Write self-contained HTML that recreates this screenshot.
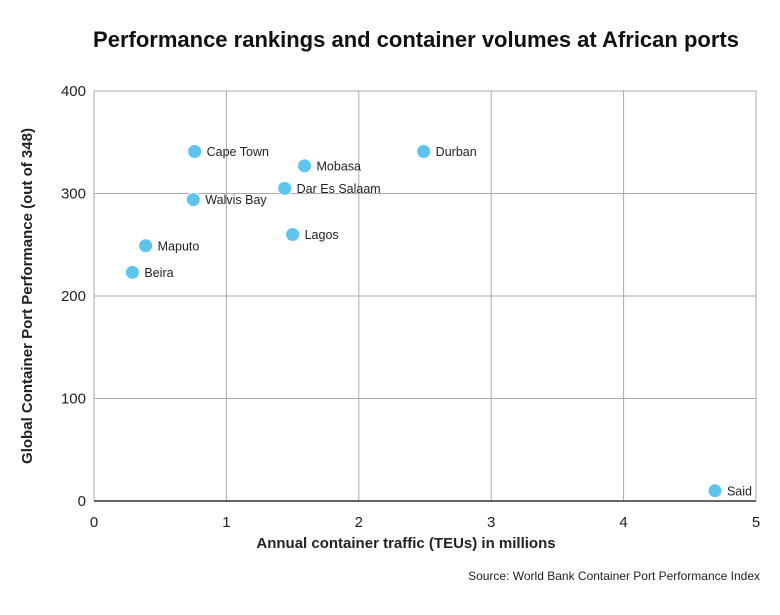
<!DOCTYPE html>
<html><head><meta charset="utf-8"><style>
body{margin:0;background:#fff;font-family:"Liberation Sans",sans-serif;}
svg text{font-family:"Liberation Sans",sans-serif;}
</style></head><body>
<svg id="chart" width="780" height="610" xmlns="http://www.w3.org/2000/svg">
<rect width="780" height="610" fill="#fff"/>
<text x="416" y="47" text-anchor="middle" font-size="22" font-weight="bold" fill="#111">Performance rankings and container volumes at African ports</text>
<g id="grid"></g>
<g id="points"></g>
<text x="406" y="548" text-anchor="middle" font-size="15" font-weight="bold" fill="#222">Annual container traffic (TEUs) in millions</text>
<text transform="translate(32,296) rotate(-90)" text-anchor="middle" font-size="15" font-weight="bold" fill="#222">Global Container Port Performance (out of 348)</text>
<text x="760" y="580" text-anchor="end" font-size="12" fill="#222">Source: World Bank Container Port Performance Index</text>
</svg>
<script>
const ports=["Cape Town","Mobasa","Durban","Dar Es Salaam","Walvis Bay","Lagos","Maputo","Beira","Said"];
const traffic=[0.76,1.59,2.49,1.44,0.75,1.50,0.39,0.29,4.69];
const ranking=[341,327,341,305,294,260,249,223,10];
const xTicks=[0,1,2,3,4,5];
const yTicks=[0,100,200,300,400];
const NS="http://www.w3.org/2000/svg";
const x0=94,x1=756,y0=501,y1=91;
const sx=v=>x0+(v-0)/(5-0)*(x1-x0);
const sy=v=>y0-(v-0)/(400-0)*(y0-y1);
function mk(t,a,p){const e=document.createElementNS(NS,t);for(const k in a)e.setAttribute(k,a[k]);p.appendChild(e);return e;}
const g=document.getElementById('grid');
xTicks.forEach(t=>{
 const l=mk('line',{x1:sx(t),x2:sx(t),y1:y1,y2:y0,stroke:'#aaa','stroke-width':1},g);
 
 
 const tx=mk('text',{x:sx(t),y:y0+26,'text-anchor':'middle','font-size':15,fill:'#222'},g);
 tx.textContent=t;
 
 
});
yTicks.forEach(t=>{
 const l=mk('line',{x1:x0,x2:x1,y1:sy(t),y2:sy(t),stroke:t===0?'#333':'#aaa','stroke-width':t===0?1.5:1},g);
 
 
 const tx=mk('text',{x:x0-8,y:sy(t)+5,'text-anchor':'end','font-size':15,fill:'#222'},g);
 tx.textContent=t;
 
 
});
const p=document.getElementById('points');
ports.forEach((n,i)=>{
 const c=mk('circle',{cx:sx(traffic[i]),cy:sy(ranking[i]),r:7,fill:'#5ec4ee',stroke:'#fff','stroke-width':1},p);
 
 
 const t=mk('text',{x:sx(traffic[i])+12,y:sy(ranking[i])+4.5,'font-size':12.5,fill:'#222'},p);
 t.textContent=n;
 
 
});
</script>
</body></html>
